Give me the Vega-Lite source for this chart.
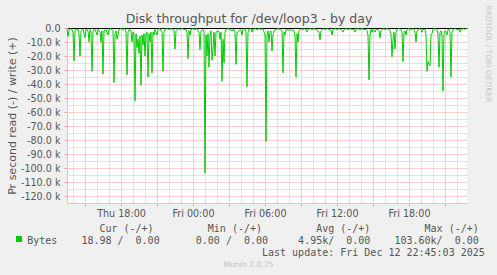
{
"$schema": "https://vega.github.io/schema/vega-lite/v6.json",
"width": 400, "height": 175,
"autosize": {"type": "none"},
"padding": {"left": 67, "top": 28, "right": 30, "bottom": 72},
"background": "#f0f0f0",
"title": {"text": "Munin 2.0.75", "orient": "bottom", "anchor": "middle", "frame": "bounds", "font": "DejaVu Sans", "fontSize": 7.6, "fontWeight": "normal", "color": "#c0c0c0", "offset": 4},
"config": {"view": {"fill": "#ffffff", "stroke": null}, "font": "DejaVu Sans"},
"data": {"values": [
{"t":"2025-12-11T13:30","v":-1000},{"t":"2025-12-11T13:35","v":-6000},{"t":"2025-12-11T13:40","v":-2000},{"t":"2025-12-11T13:45","v":-500},
{"t":"2025-12-11T13:55","v":-1000},{"t":"2025-12-11T14:00","v":-3000},{"t":"2025-12-11T14:05","v":-23500},{"t":"2025-12-11T14:10","v":-2000},
{"t":"2025-12-11T14:15","v":-1000},{"t":"2025-12-11T14:25","v":-1000},{"t":"2025-12-11T14:30","v":-4000},{"t":"2025-12-11T14:35","v":-20000},
{"t":"2025-12-11T14:40","v":-2000},{"t":"2025-12-11T14:50","v":-500},{"t":"2025-12-11T15:00","v":-7000},{"t":"2025-12-11T15:05","v":-1000},
{"t":"2025-12-11T15:15","v":-2000},{"t":"2025-12-11T15:20","v":-10000},{"t":"2025-12-11T15:25","v":-1000},{"t":"2025-12-11T15:30","v":-3000},
{"t":"2025-12-11T15:35","v":-31000},{"t":"2025-12-11T15:40","v":-2000},{"t":"2025-12-11T15:50","v":-1000},{"t":"2025-12-11T16:00","v":-5000},
{"t":"2025-12-11T16:05","v":-1000},{"t":"2025-12-11T16:10","v":-2000},{"t":"2025-12-11T16:15","v":-3000},{"t":"2025-12-11T16:20","v":-10000},
{"t":"2025-12-11T16:25","v":-2000},{"t":"2025-12-11T16:30","v":-33000},{"t":"2025-12-11T16:35","v":-2000},{"t":"2025-12-11T16:45","v":-1000},
{"t":"2025-12-11T16:55","v":-5000},{"t":"2025-12-11T17:00","v":-1000},{"t":"2025-12-11T17:10","v":-500},{"t":"2025-12-11T17:20","v":-2000},
{"t":"2025-12-11T17:25","v":-39000},{"t":"2025-12-11T17:30","v":-4000},{"t":"2025-12-11T17:35","v":-2000},{"t":"2025-12-11T17:40","v":-8000},
{"t":"2025-12-11T17:45","v":-5000},{"t":"2025-12-11T17:50","v":-1000},{"t":"2025-12-11T18:00","v":-500},{"t":"2025-12-11T18:10","v":-1000},
{"t":"2025-12-11T18:20","v":-500},{"t":"2025-12-11T18:25","v":-3000},{"t":"2025-12-11T18:30","v":-33500},{"t":"2025-12-11T18:35","v":-3000},
{"t":"2025-12-11T18:40","v":-1000},{"t":"2025-12-11T18:50","v":-2000},{"t":"2025-12-11T18:55","v":-10000},{"t":"2025-12-11T19:00","v":-3000},
{"t":"2025-12-11T19:05","v":-5000},{"t":"2025-12-11T19:10","v":-52000},{"t":"2025-12-11T19:15","v":-4000},{"t":"2025-12-11T19:20","v":-14000},
{"t":"2025-12-11T19:25","v":-8000},{"t":"2025-12-11T19:30","v":-18000},{"t":"2025-12-11T19:35","v":-6000},{"t":"2025-12-11T19:40","v":-41000},
{"t":"2025-12-11T19:45","v":-5000},{"t":"2025-12-11T19:50","v":-12000},{"t":"2025-12-11T19:55","v":-4000},{"t":"2025-12-11T20:00","v":-20000},
{"t":"2025-12-11T20:05","v":-5000},{"t":"2025-12-11T20:10","v":-3000},{"t":"2025-12-11T20:15","v":-35000},{"t":"2025-12-11T20:20","v":-4000},
{"t":"2025-12-11T20:25","v":-10000},{"t":"2025-12-11T20:30","v":-3000},{"t":"2025-12-11T20:35","v":-32000},{"t":"2025-12-11T20:40","v":-3000},
{"t":"2025-12-11T20:45","v":-5000},{"t":"2025-12-11T20:50","v":-1000},{"t":"2025-12-11T21:00","v":-5000},{"t":"2025-12-11T21:05","v":-1000},
{"t":"2025-12-11T21:15","v":-500},{"t":"2025-12-11T21:25","v":-3000},{"t":"2025-12-11T21:30","v":-31000},{"t":"2025-12-11T21:35","v":-3000},
{"t":"2025-12-11T21:40","v":-1000},{"t":"2025-12-11T21:50","v":-500},{"t":"2025-12-11T22:00","v":-1000},{"t":"2025-12-11T22:10","v":-500},
{"t":"2025-12-11T22:20","v":-1000},{"t":"2025-12-11T22:25","v":-2000},{"t":"2025-12-11T22:30","v":-15000},{"t":"2025-12-11T22:35","v":-2000},
{"t":"2025-12-11T22:45","v":-500},{"t":"2025-12-11T22:55","v":-1000},{"t":"2025-12-11T23:05","v":-500},{"t":"2025-12-11T23:15","v":-1000},
{"t":"2025-12-11T23:25","v":-1000},{"t":"2025-12-11T23:30","v":-3000},{"t":"2025-12-11T23:35","v":-22000},{"t":"2025-12-11T23:40","v":-2000},
{"t":"2025-12-11T23:45","v":-5000},{"t":"2025-12-11T23:50","v":-1000},
{"t":"2025-12-12T00:00","v":-500},{"t":"2025-12-12T00:10","v":-1000},{"t":"2025-12-12T00:20","v":-500},{"t":"2025-12-12T00:25","v":-2000},
{"t":"2025-12-12T00:30","v":-3000},{"t":"2025-12-12T00:35","v":-15500},{"t":"2025-12-12T00:40","v":-2000},{"t":"2025-12-12T00:50","v":-1000},
{"t":"2025-12-12T00:55","v":-3000},{"t":"2025-12-12T01:00","v":-103600},{"t":"2025-12-12T01:05","v":-5000},{"t":"2025-12-12T01:10","v":-20000},
{"t":"2025-12-12T01:15","v":-4000},{"t":"2025-12-12T01:20","v":-28000},{"t":"2025-12-12T01:25","v":-5000},{"t":"2025-12-12T01:30","v":-2000},
{"t":"2025-12-12T01:35","v":-23000},{"t":"2025-12-12T01:40","v":-15000},{"t":"2025-12-12T01:45","v":-3000},{"t":"2025-12-12T01:50","v":-20000},
{"t":"2025-12-12T01:55","v":-3000},{"t":"2025-12-12T02:05","v":-2000},{"t":"2025-12-12T02:10","v":-3000},{"t":"2025-12-12T02:15","v":-8000},
{"t":"2025-12-12T02:20","v":-3000},{"t":"2025-12-12T02:25","v":-38000},{"t":"2025-12-12T02:30","v":-8000},{"t":"2025-12-12T02:35","v":-25000},
{"t":"2025-12-12T02:40","v":-3000},{"t":"2025-12-12T02:45","v":-1000},{"t":"2025-12-12T02:55","v":-500},{"t":"2025-12-12T03:05","v":-1000},
{"t":"2025-12-12T03:15","v":-2000},{"t":"2025-12-12T03:25","v":-1000},{"t":"2025-12-12T03:30","v":-3000},{"t":"2025-12-12T03:35","v":-26000},
{"t":"2025-12-12T03:40","v":-3000},{"t":"2025-12-12T03:45","v":-3000},{"t":"2025-12-12T03:55","v":-1000},{"t":"2025-12-12T04:00","v":-2000},
{"t":"2025-12-12T04:05","v":-5000},{"t":"2025-12-12T04:10","v":-1000},{"t":"2025-12-12T04:20","v":-500},{"t":"2025-12-12T04:25","v":-3000},
{"t":"2025-12-12T04:30","v":-42000},{"t":"2025-12-12T04:35","v":-3000},{"t":"2025-12-12T04:40","v":-1000},{"t":"2025-12-12T04:50","v":-500},
{"t":"2025-12-12T04:55","v":-3000},{"t":"2025-12-12T05:00","v":-1000},{"t":"2025-12-12T05:10","v":-500},{"t":"2025-12-12T05:20","v":-1000},
{"t":"2025-12-12T05:30","v":-500},{"t":"2025-12-12T05:40","v":-1000},{"t":"2025-12-12T05:50","v":-500},{"t":"2025-12-12T05:55","v":-3000},
{"t":"2025-12-12T06:00","v":-5000},{"t":"2025-12-12T06:05","v":-81000},{"t":"2025-12-12T06:10","v":-5000},{"t":"2025-12-12T06:15","v":-2000},
{"t":"2025-12-12T06:20","v":-10000},{"t":"2025-12-12T06:25","v":-3000},{"t":"2025-12-12T06:30","v":-2000},{"t":"2025-12-12T06:35","v":-16500},
{"t":"2025-12-12T06:40","v":-5000},{"t":"2025-12-12T06:45","v":-2000},{"t":"2025-12-12T06:55","v":-1000},{"t":"2025-12-12T07:05","v":-500},
{"t":"2025-12-12T07:15","v":-1000},{"t":"2025-12-12T07:25","v":-2000},{"t":"2025-12-12T07:30","v":-32000},{"t":"2025-12-12T07:35","v":-3000},
{"t":"2025-12-12T07:40","v":-5000},{"t":"2025-12-12T07:45","v":-1000},{"t":"2025-12-12T07:55","v":-1500},{"t":"2025-12-12T08:05","v":-1400},
{"t":"2025-12-12T08:15","v":-1400},{"t":"2025-12-12T08:25","v":-2000},{"t":"2025-12-12T08:30","v":-5000},{"t":"2025-12-12T08:35","v":-35000},
{"t":"2025-12-12T08:40","v":-4000},{"t":"2025-12-12T08:45","v":-10000},{"t":"2025-12-12T08:50","v":-2000},{"t":"2025-12-12T09:00","v":-500},
{"t":"2025-12-12T09:10","v":-1000},{"t":"2025-12-12T09:20","v":-500},{"t":"2025-12-12T09:30","v":-3000},{"t":"2025-12-12T09:35","v":-1000},
{"t":"2025-12-12T09:45","v":-500},{"t":"2025-12-12T09:55","v":-1000},{"t":"2025-12-12T10:05","v":-500},{"t":"2025-12-12T10:15","v":-1000},
{"t":"2025-12-12T10:25","v":-2000},{"t":"2025-12-12T10:30","v":-3000},{"t":"2025-12-12T10:35","v":-8500},{"t":"2025-12-12T10:40","v":-2000},
{"t":"2025-12-12T10:50","v":-500},{"t":"2025-12-12T11:00","v":-1000},{"t":"2025-12-12T11:10","v":-500},{"t":"2025-12-12T11:20","v":-1000},
{"t":"2025-12-12T11:30","v":-2000},{"t":"2025-12-12T11:35","v":-5000},{"t":"2025-12-12T11:40","v":-1000},{"t":"2025-12-12T11:50","v":-500},
{"t":"2025-12-12T12:00","v":-1000},{"t":"2025-12-12T12:10","v":-500},{"t":"2025-12-12T12:20","v":-1000},{"t":"2025-12-12T12:30","v":-3000},
{"t":"2025-12-12T12:35","v":-1000},{"t":"2025-12-12T12:45","v":-500},{"t":"2025-12-12T12:55","v":-1000},{"t":"2025-12-12T13:05","v":-500},
{"t":"2025-12-12T13:15","v":-1000},{"t":"2025-12-12T13:25","v":-1000},{"t":"2025-12-12T13:30","v":-3000},{"t":"2025-12-12T13:35","v":-1000},
{"t":"2025-12-12T13:45","v":-500},{"t":"2025-12-12T13:55","v":-1000},{"t":"2025-12-12T14:05","v":-500},{"t":"2025-12-12T14:15","v":-1000},
{"t":"2025-12-12T14:25","v":-1000},{"t":"2025-12-12T14:30","v":-2000},{"t":"2025-12-12T14:35","v":-5000},{"t":"2025-12-12T14:40","v":-37000},
{"t":"2025-12-12T14:45","v":-5000},{"t":"2025-12-12T14:50","v":-1000},{"t":"2025-12-12T14:55","v":-3000},{"t":"2025-12-12T15:00","v":-1000},
{"t":"2025-12-12T15:10","v":-3000},{"t":"2025-12-12T15:15","v":-1000},{"t":"2025-12-12T15:25","v":-1000},{"t":"2025-12-12T15:30","v":-2000},
{"t":"2025-12-12T15:35","v":-7000},{"t":"2025-12-12T15:40","v":-2000},{"t":"2025-12-12T15:50","v":-500},{"t":"2025-12-12T16:00","v":-1000},
{"t":"2025-12-12T16:10","v":-500},{"t":"2025-12-12T16:20","v":-1000},{"t":"2025-12-12T16:25","v":-2000},{"t":"2025-12-12T16:30","v":-4000},
{"t":"2025-12-12T16:35","v":-20500},{"t":"2025-12-12T16:40","v":-8000},{"t":"2025-12-12T16:45","v":-3000},{"t":"2025-12-12T16:50","v":-15000},
{"t":"2025-12-12T16:55","v":-3000},{"t":"2025-12-12T17:00","v":-1000},{"t":"2025-12-12T17:10","v":-500},{"t":"2025-12-12T17:20","v":-1000},
{"t":"2025-12-12T17:25","v":-3000},{"t":"2025-12-12T17:30","v":-24000},{"t":"2025-12-12T17:35","v":-4000},{"t":"2025-12-12T17:40","v":-2000},
{"t":"2025-12-12T17:45","v":-5000},{"t":"2025-12-12T17:50","v":-1000},{"t":"2025-12-12T18:00","v":-500},{"t":"2025-12-12T18:10","v":-1000},
{"t":"2025-12-12T18:20","v":-500},{"t":"2025-12-12T18:25","v":-1000},{"t":"2025-12-12T18:30","v":-3000},{"t":"2025-12-12T18:35","v":-10000},
{"t":"2025-12-12T18:40","v":-2000},{"t":"2025-12-12T18:50","v":-500},{"t":"2025-12-12T19:00","v":-1000},{"t":"2025-12-12T19:05","v":-3000},
{"t":"2025-12-12T19:10","v":-1000},{"t":"2025-12-12T19:20","v":-1000},{"t":"2025-12-12T19:25","v":-5000},{"t":"2025-12-12T19:30","v":-31000},
{"t":"2025-12-12T19:35","v":-24000},{"t":"2025-12-12T19:40","v":-26000},{"t":"2025-12-12T19:45","v":-27000},{"t":"2025-12-12T19:50","v":-5000},
{"t":"2025-12-12T19:55","v":-4000},{"t":"2025-12-12T20:00","v":-1000},{"t":"2025-12-12T20:10","v":-500},{"t":"2025-12-12T20:20","v":-1000},
{"t":"2025-12-12T20:25","v":-5000},{"t":"2025-12-12T20:30","v":-28000},{"t":"2025-12-12T20:35","v":-3000},{"t":"2025-12-12T20:40","v":-2000},
{"t":"2025-12-12T20:45","v":-6000},{"t":"2025-12-12T20:50","v":-45000},{"t":"2025-12-12T20:55","v":-4000},{"t":"2025-12-12T21:00","v":-2000},
{"t":"2025-12-12T21:05","v":-3000},{"t":"2025-12-12T21:10","v":-5000},{"t":"2025-12-12T21:15","v":-1000},{"t":"2025-12-12T21:20","v":-1000},
{"t":"2025-12-12T21:25","v":-3000},{"t":"2025-12-12T21:30","v":-35000},{"t":"2025-12-12T21:35","v":-3000},{"t":"2025-12-12T21:40","v":-1000},
{"t":"2025-12-12T21:50","v":-500},{"t":"2025-12-12T22:00","v":-1000},{"t":"2025-12-12T22:10","v":-1000},{"t":"2025-12-12T22:15","v":-3000},
{"t":"2025-12-12T22:20","v":-1000},{"t":"2025-12-12T22:30","v":-500},{"t":"2025-12-12T22:40","v":-1000},{"t":"2025-12-12T22:45","v":-19}
]},
"layer": [
{"mark": {"type": "line", "strokeOpacity": 0},
 "encoding": {
  "x": {"field": "t", "type": "temporal",
   "scale": {"domain": [{"year": 2025, "month": 12, "date": 11, "hours": 13, "minutes": 30}, {"year": 2025, "month": 12, "date": 12, "hours": 22, "minutes": 50}]},
   "axis": {"orient": "top", "labels": false, "ticks": false, "domain": true, "domainColor": "#000000", "domainWidth": 1,
    "grid": true, "gridColor": "#c8c8c8", "gridDash": [1, 1],
    "values": [
     {"year": 2025, "month": 12, "date": 11, "hours": 14}, {"year": 2025, "month": 12, "date": 11, "hours": 16}, {"year": 2025, "month": 12, "date": 11, "hours": 17},
     {"year": 2025, "month": 12, "date": 11, "hours": 19}, {"year": 2025, "month": 12, "date": 11, "hours": 20}, {"year": 2025, "month": 12, "date": 11, "hours": 22},
     {"year": 2025, "month": 12, "date": 11, "hours": 23}, {"year": 2025, "month": 12, "date": 12, "hours": 1}, {"year": 2025, "month": 12, "date": 12, "hours": 2},
     {"year": 2025, "month": 12, "date": 12, "hours": 4}, {"year": 2025, "month": 12, "date": 12, "hours": 5}, {"year": 2025, "month": 12, "date": 12, "hours": 7},
     {"year": 2025, "month": 12, "date": 12, "hours": 8}, {"year": 2025, "month": 12, "date": 12, "hours": 10}, {"year": 2025, "month": 12, "date": 12, "hours": 11},
     {"year": 2025, "month": 12, "date": 12, "hours": 13}, {"year": 2025, "month": 12, "date": 12, "hours": 14}, {"year": 2025, "month": 12, "date": 12, "hours": 16},
     {"year": 2025, "month": 12, "date": 12, "hours": 17}, {"year": 2025, "month": 12, "date": 12, "hours": 19}, {"year": 2025, "month": 12, "date": 12, "hours": 20},
     {"year": 2025, "month": 12, "date": 12, "hours": 22}],
    "title": "Disk throughput for /dev/loop3 - by day", "titleFont": "DejaVu Sans", "titleFontSize": 12.5, "titleFontWeight": "normal", "titleColor": "#555555",
    "titleX": 181.5, "titleY": -10, "titleBaseline": "middle", "titleAlign": "center", "titleAngle": 0}},
  "y": {"field": "v", "type": "quantitative",
   "scale": {"domain": [-125000, 0], "nice": false, "zero": false},
   "axis": {"orient": "right", "labels": false, "ticks": false, "domain": false, "grid": true, "gridColor": "#c8c8c8", "gridDash": [1, 1],
    "values": [-5000, -15000, -25000, -35000, -45000, -55000, -65000, -75000, -85000, -95000, -105000, -115000],
    "title": "RRDTOOL / TOBI OETIKER", "titleFont": "DejaVu Sans", "titleFontSize": 7.5, "titleFontWeight": "normal", "titleColor": "#c4c4c4",
    "titleAngle": 90, "titleX": 20, "titleY": -23, "titleAlign": "left", "titleBaseline": "middle"}}
 }},
{"mark": {"type": "line", "strokeWidth": 1},
 "encoding": {
  "x": {"field": "t", "type": "temporal",
   "axis": {"orient": "bottom",
    "values": [
     {"year": 2025, "month": 12, "date": 11, "hours": 15}, {"year": 2025, "month": 12, "date": 11, "hours": 18}, {"year": 2025, "month": 12, "date": 11, "hours": 21},
     {"year": 2025, "month": 12, "date": 12, "hours": 0}, {"year": 2025, "month": 12, "date": 12, "hours": 3}, {"year": 2025, "month": 12, "date": 12, "hours": 6},
     {"year": 2025, "month": 12, "date": 12, "hours": 9}, {"year": 2025, "month": 12, "date": 12, "hours": 12}, {"year": 2025, "month": 12, "date": 12, "hours": 15},
     {"year": 2025, "month": 12, "date": 12, "hours": 18}, {"year": 2025, "month": 12, "date": 12, "hours": 21}],
    "labelExpr": "hours(datum.value) % 6 == 0 ? timeFormat(datum.value, '%a %H:%M') : ''",
    "labelFont": "DejaVu Sans", "labelFontSize": 9.6, "labelColor": "#555555", "labelPadding": 2, "labelFlush": false, "labelOverlap": false,
    "ticks": true, "tickSize": 3, "tickColor": "#ffa0a0", "domain": true, "domainColor": "#c8c8ff",
    "grid": true, "gridColor": "#ffa0a0", "gridDash": [1, 1],
    "title": [
     "\u200b\u00a0\u00a0\u00a0\u00a0\u00a0\u00a0\u00a0\u00a0\u00a0\u00a0\u00a0\u00a0Cur\u00a0(-/+)\u00a0\u00a0\u00a0\u00a0\u00a0\u00a0\u00a0\u00a0\u00a0Min\u00a0(-/+)\u00a0\u00a0\u00a0\u00a0\u00a0\u00a0\u00a0\u00a0\u00a0Avg\u00a0(-/+)\u00a0\u00a0\u00a0\u00a0\u00a0\u00a0\u00a0\u00a0\u00a0Max\u00a0(-/+)",
     "Bytes\u00a0\u00a0\u00a0\u00a018.98\u00a0/\u00a0\u00a00.00\u00a0\u00a0\u00a0\u00a0\u00a0\u00a00.00\u00a0/\u00a0\u00a00.00\u00a0\u00a0\u00a0\u00a0\u00a04.95k/\u00a0\u00a00.00\u00a0\u00a0\u00a0\u00a0103.60k/\u00a0\u00a00.00",
     "\u200b\u00a0\u00a0\u00a0\u00a0\u00a0\u00a0\u00a0\u00a0\u00a0\u00a0\u00a0\u00a0\u00a0\u00a0\u00a0\u00a0\u00a0\u00a0\u00a0\u00a0\u00a0\u00a0\u00a0\u00a0\u00a0\u00a0\u00a0\u00a0\u00a0\u00a0\u00a0\u00a0\u00a0\u00a0\u00a0\u00a0\u00a0\u00a0\u00a0Last\u00a0update:\u00a0Fri\u00a0Dec\u00a012\u00a022:45:03\u00a02025"
    ],
    "titleFont": "DejaVu Sans Mono", "titleFontSize": 10, "titleFontWeight": "normal", "titleColor": "#555555", "titleLineHeight": 12,
    "titleAnchor": "start", "titleAlign": "left", "titleBaseline": "top", "titleX": -40.3, "titleY": 20}},
  "y": {"field": "v", "type": "quantitative",
   "axis": {"orient": "left", "values": [0, -10000, -20000, -30000, -40000, -50000, -60000, -70000, -80000, -90000, -100000, -110000, -120000],
    "labelExpr": "datum.value == 0 ? '0.0' : '-' + format(-datum.value / 1000, '.1f') + ' k'",
    "labelFont": "DejaVu Sans", "labelFontSize": 9.6, "labelColor": "#555555", "labelPadding": 4,
    "ticks": true, "tickSize": 3, "tickColor": "#ffa0a0", "domain": true, "domainColor": "#c8c8ff",
    "grid": true, "gridColor": "#ffa0a0", "gridDash": [1, 1],
    "title": "Pr second read (-) / write (+)", "titleFont": "DejaVu Sans", "titleFontSize": 11, "titleFontWeight": "normal", "titleColor": "#555555",
    "titleX": -55, "titleBaseline": "middle"}},
  "color": {"datum": "Bytes", "scale": {"range": ["#00cc00"]},
   "legend": {"orient": "none", "legendX": -53, "legendY": 206, "title": null, "symbolType": "square", "symbolSize": 36,
    "symbolFillColor": "#00cc00", "symbolStrokeColor": "#00cc00", "symbolStrokeWidth": 0,
    "labelExpr": "''", "labelFontSize": 10, "labelOffset": 0, "padding": 0}}
 }}
]
}
